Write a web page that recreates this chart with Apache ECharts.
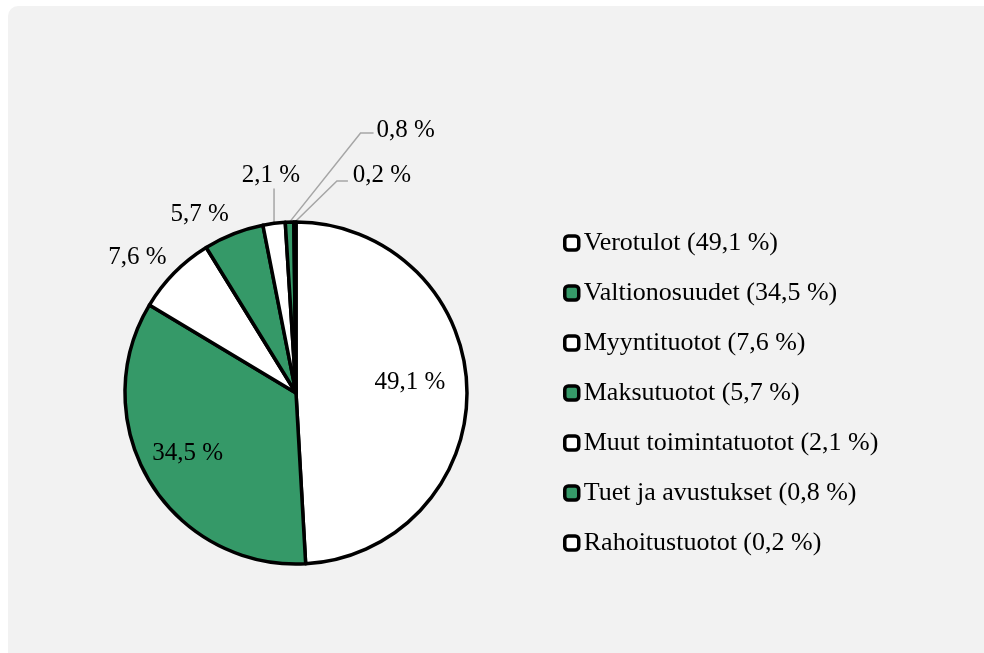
<!DOCTYPE html>
<html>
<head>
<meta charset="utf-8">
<script src="https://cdn.jsdelivr.net/npm/echarts@6/dist/echarts.min.js"></script>
<style>
  html, body { margin: 0; padding: 0; background: #fff; }
  #chart { width: 984px; height: 653px; }
</style>
</head>
<body>
<div id="chart"></div>
<script>
// tulolajit ja osuudet (%)
var categories = ['Verotulot', 'Valtionosuudet', 'Myyntituotot', 'Maksutuotot',
  'Muut toimintatuotot', 'Tuet ja avustukset', 'Rahoitustuotot'];
var shares = [49.1, 34.5, 7.6, 5.7, 2.1, 0.8, 0.2];
var sliceColors = ['#ffffff', '#359968', '#ffffff', '#359968', '#ffffff', '#359968', '#ffffff'];

var CX = 296, CY = 393, R = 171;
var FONT = 'Liberation Serif, Times New Roman, serif';

// label offsets from the slice edge point at mid angle, plus leader line bends
var labelPlace = [
  { dx: -57, dy: -6 },
  { dx: 38, dy: -28 },
  { dx: -37, dy: -15 },
  { dx: -34, dy: -19 },
  { dx: -3, dy: -48, line: [[0, -35]] },
  { dx: 116, dy: -92, line: [[71, -89], [84, -89]] },
  { dx: 87, dy: -47, line: [[42, -41], [53, -41]] }
];

function fmt(v) {
  return v.toFixed(1).replace('.', ',') + ' %';
}

var total = shares.reduce(function (a, b) { return a + b; }, 0);
var midAngles = [];
var acc = 0;
shares.forEach(function (v) {
  midAngles.push((acc + v / 2) / total * Math.PI * 2);
  acc += v;
});

function edgePoint(i) {
  var a = midAngles[i];
  return [CX + R * Math.sin(a), CY - R * Math.cos(a)];
}

var chart = echarts.init(document.getElementById('chart'));

chart.setOption({
  backgroundColor: '#ffffff',
  animation: false,
  graphic: [{
    type: 'rect',
    z: -10,
    shape: { x: 8, y: 6, width: 990, height: 660, r: [10, 0, 0, 0] },
    style: { fill: '#f2f2f2' }
  }],
  legend: {
    orient: 'vertical',
    left: 558,
    top: 225,
    itemWidth: 14,
    itemHeight: 14,
    itemGap: 24,
    icon: 'roundRect',
    itemStyle: { borderColor: '#000', borderWidth: 3.5 },
    textStyle: { fontFamily: FONT, fontSize: 26, color: '#000' },
    formatter: function (name) {
      var i = categories.indexOf(name);
      return name + ' (' + fmt(shares[i]) + ')';
    }
  },
  series: [{
    type: 'pie',
    center: [CX, CY],
    radius: R,
    startAngle: 90,
    clockwise: true,
    avoidLabelOverlap: false,
    itemStyle: { borderColor: '#000', borderWidth: 3.5 },
    emphasis: { disabled: true },
    label: {
      show: true,
      position: 'outside',
      fontFamily: FONT,
      fontSize: 25,
      color: '#000',
      formatter: function (p) { return fmt(p.value); }
    },
    labelLine: {
      show: true,
      lineStyle: { color: '#a6a6a6', width: 1.5 }
    },
    labelLayout: function (p) {
      var i = p.dataIndex;
      var e = edgePoint(i);
      var cfg = labelPlace[i];
      var out = {
        x: e[0] + cfg.dx,
        y: e[1] + cfg.dy,
        align: 'center',
        verticalAlign: 'middle'
      };
      if (cfg.line) {
        var pts = [e];
        cfg.line.forEach(function (d) { pts.push([e[0] + d[0], e[1] + d[1]]); });
        out.labelLinePoints = pts;
      }
      return out;
    },
    data: categories.map(function (name, i) {
      return {
        name: name,
        value: shares[i],
        itemStyle: { color: sliceColors[i] },
        labelLine: { show: !!labelPlace[i].line }
      };
    })
  }]
});
</script>
</body>
</html>
